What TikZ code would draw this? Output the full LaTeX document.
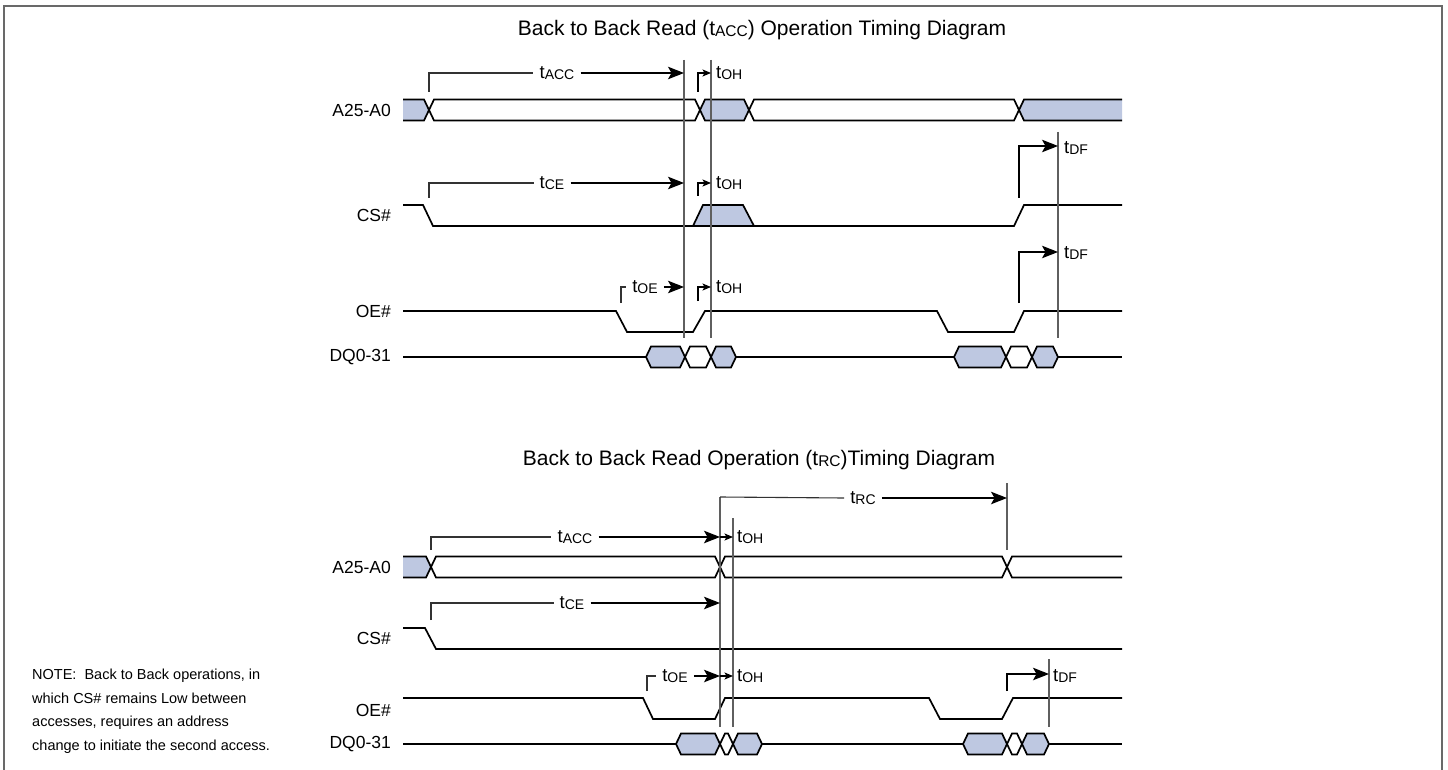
\documentclass[tikz,border=0pt]{standalone}
\usepackage{fontspec}
\setmainfont{Liberation Sans}
\usetikzlibrary{arrows.meta}
\definecolor{busfill}{RGB}{190,200,225}
\definecolor{refgray}{RGB}{95,95,95}
\definecolor{brkgray}{RGB}{50,50,50}
\definecolor{framegray}{RGB}{105,105,105}
\newcommand\tsub[2][14]{t\raisebox{-1.2pt}{\fontsize{#1}{#1}\selectfont #2}}
\newcommand\hexseg[4]{\filldraw[sig,fill=#4] (#1,#3) -- ({#1+5},{#3-10.5}) -- ({#2-5},{#3-10.5}) -- (#2,#3) -- ({#2-5},{#3+10.5}) -- ({#1+5},{#3+10.5}) -- cycle;}
\newcommand\busopenL[4]{\fill[#4] (#1,{#3-10.5}) -- ({#2-5},{#3-10.5}) -- (#2,#3) -- ({#2-5},{#3+10.5}) -- (#1,{#3+10.5}) -- cycle; \draw[sig] (#1,{#3-10.5}) -- ({#2-5},{#3-10.5}) -- (#2,#3) -- ({#2-5},{#3+10.5}) -- (#1,{#3+10.5});}
\newcommand\busopenR[4]{\fill[#4] (#2,{#3-10.5}) -- ({#1+5},{#3-10.5}) -- (#1,#3) -- ({#1+5},{#3+10.5}) -- (#2,{#3+10.5}) -- cycle; \draw[sig] (#2,{#3-10.5}) -- ({#1+5},{#3-10.5}) -- (#1,#3) -- ({#1+5},{#3+10.5}) -- (#2,{#3+10.5});}
\tikzset{
  sig/.style={line width=1.7pt, black, line join=miter},
  ref/.style={line width=1.1pt, refgray},
  brk/.style={line width=1.1pt, brkgray},
  bigarr/.style={line width=1.1pt, black, -{Stealth[length=16pt,width=12.5pt,inset=3.5pt]}},
  smallarr/.style={line width=1.1pt, black, -{Stealth[length=8.5pt,width=7pt,inset=2pt]}},
  siglabel/.style={anchor=east, inner sep=0pt, font=\fontsize{17.5}{18}\selectfont},
  tl/.style={inner xsep=6pt, inner ysep=0pt, font=\fontsize{18.5}{19}\selectfont},
  tlw/.style={anchor=west, inner sep=0pt, font=\fontsize{18.5}{19}\selectfont},
  titlefont/.style={inner sep=0pt, font=\fontsize{21}{22}\selectfont},
  notefont/.style={anchor=base west, inner sep=0pt, font=\fontsize{14.5}{15}\selectfont}
}
\begin{document}
\begin{tikzpicture}[x=1pt,y=-1pt]
\useasboundingbox (0,0) rectangle (1448,770);
\draw[line width=2.5pt, framegray] (4,775) -- (4,6) -- (1442,6) -- (1442,775);

% ================= TOP DIAGRAM =================
\node[titlefont] (title1) at (762,30) {Back to Back Read (\tsub[15.5]{ACC}) Operation Timing Diagram};

\node[siglabel] (la1) at (391,110) {A25-A0};
\node[siglabel] (lc1) at (391,215) {CS\#};
\node[siglabel] (lo1) at (391,311) {OE\#};
\node[siglabel] (ld1) at (391,357) {DQ0-31};

% A25-A0 bus
\busopenL{403}{429}{110}{busfill}
\hexseg{429}{700}{110}{white}
\hexseg{700}{749}{110}{busfill}
\hexseg{749}{1019}{110}{white}
\busopenR{1019}{1122}{110}{busfill}

% CS#
\filldraw[sig,fill=busfill] (693,226) -- (703,205) -- (743,205) -- (754,226) -- cycle;
\draw[sig] (403,205) -- (423,205) -- (433,226) -- (1014,226) -- (1024,205) -- (1122,205);

% OE#
\draw[sig] (403,311) -- (616,311) -- (627,332) -- (693,332) -- (705,311) -- (937,311) -- (948,332) -- (1014,332) -- (1024,311) -- (1122,311);

% DQ0-31
\draw[sig] (403,357) -- (646,357);
\hexseg{646}{685}{357}{busfill}
\hexseg{685}{711}{357}{white}
\hexseg{711}{736}{357}{busfill}
\draw[sig] (736,357) -- (954,357);
\hexseg{954}{1006}{357}{busfill}
\hexseg{1006}{1032}{357}{white}
\hexseg{1032}{1058}{357}{busfill}
\draw[sig] (1058,357) -- (1122,357);

% reference lines
\draw[ref] (684,60) -- (684,338);
\draw[ref] (711,60) -- (711,338);
\draw[ref] (1058,132) -- (1058,338);

% tACC
\node[tl] (tacc1) at (557,73) {\tsub{ACC}};
\draw[brk] (429,92) |- (tacc1.west);
\draw[bigarr] (tacc1.east) -- (684,73);
\draw[smallarr] (698,92) |- (711,73);
\node[tlw] (toh1) at (716,73) {\tsub{OH}};

% tCE
\node[tl] (tce1) at (552,183) {\tsub{CE}};
\draw[brk] (429,198) |- (tce1.west);
\draw[bigarr] (tce1.east) -- (684,183);
\draw[smallarr] (698,196) |- (711,183);
\node[tlw] (toh2) at (716,183) {\tsub{OH}};

% tDF (CS#)
\draw[bigarr] (1019,198) |- (1058,146);
\node[tlw] (tdf1) at (1064,148) {\tsub{DF}};

% tOE
\node[tl] (toe1) at (645,287) {\tsub{OE}};
\draw[brk] (621,303) |- (toe1.west);
\draw[bigarr] (toe1.east) -- (684,287);
\draw[smallarr] (698,301) |- (711,287);
\node[tlw] (toh3) at (716,287) {\tsub{OH}};

% tDF (OE#)
\draw[bigarr] (1019,303) |- (1058,252);
\node[tlw] (tdf2) at (1064,253) {\tsub{DF}};

% ================= BOTTOM DIAGRAM =================
\node[titlefont] (title2) at (759,460) {Back to Back Read Operation (\tsub[15.5]{RC})Timing Diagram};

\node[siglabel] (la2) at (391,567) {A25-A0};
\node[siglabel] (lc2) at (391,638) {CS\#};
\node[siglabel] (lo2) at (391,710) {OE\#};
\node[siglabel] (ld2) at (391,744) {DQ0-31};

% A25-A0 bus
\busopenL{403}{431}{567}{busfill}
\hexseg{431}{720}{567}{white}
\hexseg{720}{1007}{567}{white}
\busopenR{1007}{1122}{567}{white}

% CS#
\draw[sig] (403,628) -- (425,628) -- (436,649) -- (1122,649);

% OE#
\draw[sig] (403,698) -- (643,698) -- (653,719) -- (715,719) -- (725,698) -- (929,698) -- (940,719) -- (1002,719) -- (1013,698) -- (1122,698);

% DQ0-31
\draw[sig] (403,744) -- (676,744);
\hexseg{676}{720}{744}{busfill}
\hexseg{720}{733}{744}{white}
\hexseg{733}{762}{744}{busfill}
\draw[sig] (762,744) -- (963,744);
\hexseg{963}{1007}{744}{busfill}
\hexseg{1007}{1022}{744}{white}
\hexseg{1022}{1049}{744}{busfill}
\draw[sig] (1049,744) -- (1122,744);

% reference lines
\draw[ref] (720,497) -- (720,727);
\draw[ref] (733,518) -- (733,727);
\draw[ref] (1007,483) -- (1007,550);
\draw[ref] (1049,659) -- (1049,727);

% tRC
\node[tl] (trc) at (863,498) {\tsub{RC}};
\draw[brk] (720,497) -- (trc.west);
\draw[bigarr] (trc.east) -- (1007,498);

% tACC
\node[tl] (tacc2) at (575,537) {\tsub{ACC}};
\draw[brk] (431,550) |- (tacc2.west);
\draw[bigarr] (tacc2.east) -- (720,537);
\draw[smallarr] (720,537) -- (733,537);
\node[tlw] (toh4) at (737,537) {\tsub{OH}};

% tCE
\node[tl] (tce2) at (572,603) {\tsub{CE}};
\draw[brk] (431,620) |- (tce2.west);
\draw[bigarr] (tce2.east) -- (720,603);

% tOE
\node[tl] (toe2) at (675,676) {\tsub{OE}};
\draw[brk] (647,691) |- (toe2.west);
\draw[bigarr] (toe2.east) -- (720,676);
\draw[smallarr] (720,676) -- (733,676);
\node[tlw] (toh5) at (737,676) {\tsub{OH}};

% tDF
\draw[bigarr] (1007,691) |- (1049,674);
\node[tlw] (tdf3) at (1053,676) {\tsub{DF}};

% note
\node[notefont] (note1) at (32,679) {NOTE:\ \ Back to Back operations, in};
\node[notefont] (note2) at (32,703) {which CS\# remains Low between};
\node[notefont] (note3) at (32,726) {accesses, requires an address};
\node[notefont] (note4) at (32,750) {change to initiate the second access.};
\end{tikzpicture}
\end{document}
